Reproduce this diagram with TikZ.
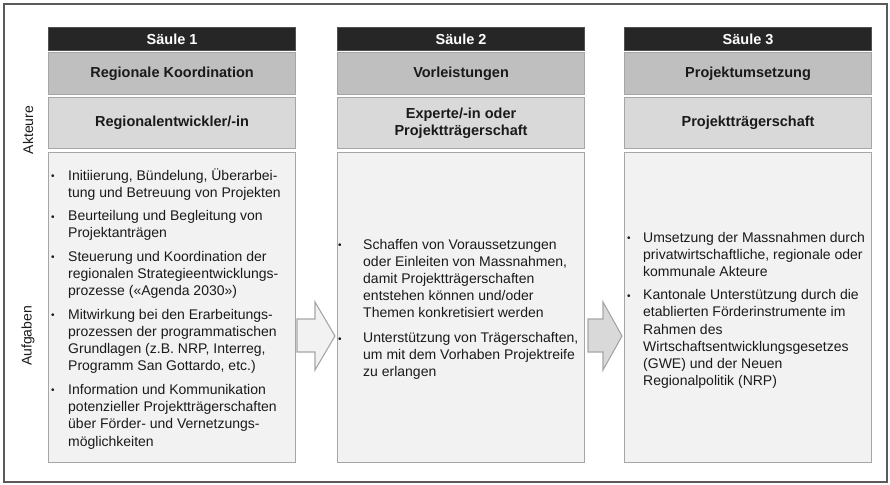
\documentclass[tikz,border=0pt]{standalone}
\usepackage{fontspec}
\setmainfont{Liberation Sans}
\definecolor{hdrdark}{HTML}{262626}
\definecolor{rowtwo}{HTML}{BFBFBF}
\definecolor{rowthree}{HTML}{D9D9D9}
\definecolor{rowfour}{HTML}{F2F2F2}
\definecolor{boxline}{HTML}{A6A6A6}
\definecolor{framecol}{HTML}{5A5A5A}
\definecolor{txt}{HTML}{1A1A1A}
\newcommand\blt[1]{\makebox[#1][l]{\raisebox{0.5pt}{\fontsize{10}{10}\selectfont\textbullet}}}
\begin{document}
\begin{tikzpicture}[x=1pt,y=-1pt,
  cell/.style={draw=boxline, line width=1.1pt, inner sep=0pt, minimum width=247pt, anchor=north west, align=center, text=txt, font=\fontsize{14.5}{17}\selectfont\bfseries},
  headcell/.style={cell, fill=hdrdark, draw=hdrdark!80!white, minimum height=23pt, text=white},
  titlecell/.style={cell, fill=rowtwo, minimum height=42pt},
  actorcell/.style={cell, fill=rowthree, minimum height=51pt},
  taskcell/.style={cell, fill=rowfour, minimum height=310pt},
  bodytext/.style={anchor=base west, inner sep=0pt, text=txt, font=\fontsize{14}{17.2}\selectfont},
  sidelabel/.style={rotate=90, inner sep=0pt, text=txt, font=\fontsize{14}{17}\selectfont},
  blockarrow/.style={draw=boxline, line width=1.1pt, line join=miter}
]
\useasboundingbox (0,0) rectangle (890,484);
\draw[framecol, line width=1.3pt] (4,4) rectangle (887,482);

% column 1
\node[headcell]  (h1) at (48,27)  {Säule 1};
\node[titlecell] (r1) at (48,52)  {Regionale Koordination};
\node[actorcell] (a1) at (48,97)  {Regionalentwickler/-in};
\node[taskcell]  (t1) at (48,152) {};
% column 2
\node[headcell]  (h2) at (337,27)  {Säule 2};
\node[titlecell] (r2) at (337,52)  {Vorleistungen};
\node[actorcell] (a2) at (337,97)  {Experte/-in oder\\Projektträgerschaft};
\node[taskcell]  (t2) at (337,152) {};
% column 3
\node[headcell]  (h3) at (624,27)  {Säule 3};
\node[titlecell] (r3) at (624,52)  {Projektumsetzung};
\node[actorcell] (a3) at (624,97)  {Projektträgerschaft};
\node[taskcell]  (t3) at (624,152) {};

% side labels
\node[sidelabel] (lakt) at (28,130) {Akteure};
\node[sidelabel] (lauf) at (28,336) {Aufgaben};

% block arrows
\filldraw[blockarrow, fill=rowfour] (297,319) -- (315,319) -- (315,302) -- (335,336) -- (315,370) -- (315,352) -- (297,352) -- cycle;
\filldraw[blockarrow, fill=rowthree] (588,319) -- (603,319) -- (603,302) -- (622,336) -- (603,370) -- (603,352) -- (588,352) -- cycle;

% texts
\node[bodytext] (x1) at (51,180) {\begin{tabular}[t]{@{}l@{}l@{}}
\blt{17pt} & Initiierung, Bündelung, Überarbei-\\
 & tung und Betreuung von Projekten\\[6.3pt]
\blt{17pt} & Beurteilung und Begleitung von\\
 & Projektanträgen\\[6.3pt]
\blt{17pt} & Steuerung und Koordination der\\
 & regionalen Strategieentwicklungs-\\
 & prozesse («Agenda 2030»)\\[6.3pt]
\blt{17pt} & Mitwirkung bei den Erarbeitungs-\\
 & prozessen der programmatischen\\
 & Grundlagen (z.B. NRP, Interreg,\\
 & Programm San Gottardo, etc.)\\[6.3pt]
\blt{17pt} & Information und Kommunikation\\
 & potenzieller Projektträgerschaften\\
 & über Förder- und Vernetzungs-\\
 & möglichkeiten
\end{tabular}};

\node[bodytext] (x2) at (338,249) {\begin{tabular}[t]{@{}l@{}l@{}}
\blt{25pt} & Schaffen von Voraussetzungen\\
 & oder Einleiten von Massnahmen,\\
 & damit Projektträgerschaften\\
 & entstehen können und/oder\\
 & Themen konkretisiert werden\\[7.5pt]
\blt{25pt} & Unterstützung von Trägerschaften,\\
 & um mit dem Vorhaben Projektreife\\
 & zu erlangen
\end{tabular}};

\node[bodytext] (x3) at (627,242) {\begin{tabular}[t]{@{}l@{}l@{}}
\blt{16pt} & Umsetzung der Massnahmen durch\\
 & privatwirtschaftliche, regionale oder\\
 & kommunale Akteure\\[6pt]
\blt{16pt} & Kantonale Unterstützung durch die\\
 & etablierten Förderinstrumente im\\
 & Rahmen des\\
 & Wirtschaftsentwicklungsgesetzes\\
 & (GWE) und der Neuen\\
 & Regionalpolitik (NRP)
\end{tabular}};
\end{tikzpicture}
\end{document}
